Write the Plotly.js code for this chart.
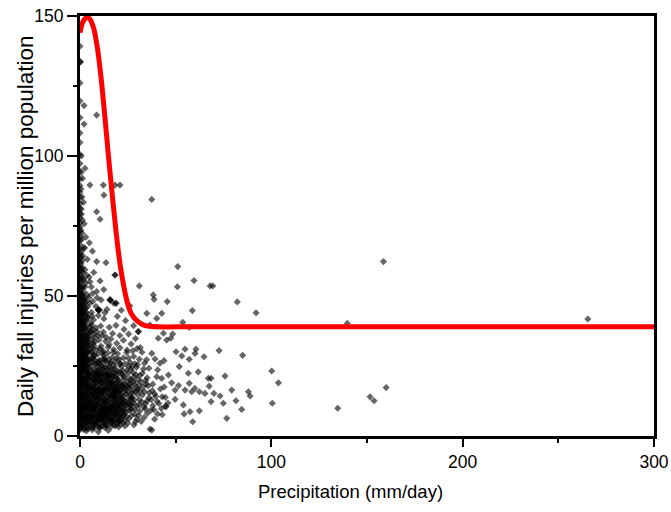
<!DOCTYPE html>
<html>
<head>
<meta charset="utf-8">
<script src="https://cdn.plot.ly/plotly-3.0.1.min.js"></script>
<style>html,body{margin:0;padding:0;background:#fff;}#chart{width:671px;height:512px;}</style>
</head>
<body>
<div id="chart"></div>
<script>
// Days with zero precipitation: injuries per million
const dryDaysY = [2.3,3.6,5.1,6.4,7.2,8.5,9.7,10.6,11.8,12.9,13.7,14.8,15.6,16.9,17.8,18.6,19.7,20.5,21.8,22.6,23.7,24.9,25.6,26.8,27.5,28.7,29.6,30.8,31.7,32.9,33.6,34.8,35.7,36.9,37.8,38.6,39.9,40.7,41.6,42.8,43.5,44.9,45.8,46.7,47.6,48.9,50.2,51.7,53.1,54.6,56.2,57.5,59.1,60.4,62.2,63.7,65.1,66.8,68.3,69.9,71.2,73.0,74.6,76.1,77.9,79.4,81.3,83.0,85.2,87.1,89.4,91.8,94.6,97.3,100.5,104.8,108.2,113.7,119.6,126.1,133.5,139.2];

// Wet days, dense core [precipitation, injuries]
const coreDays = [
[1.2,3.1],[2.5,4.4],[4.1,2.6],[5.6,5.0],[7.3,3.8],[8.8,4.9],[10.4,2.9],[12.1,4.6],[13.7,3.5],[15.2,5.4],[3.3,1.8],[6.4,2.2],[9.6,1.5],[11.5,5.8],[17.8,4.1],[20.3,5.5],[0.8,4.9],[2.0,2.3],[14.8,2.0],[29.0,5.1],[23.5,3.6],
[0.5,6.2],[1.4,7.5],[2.3,5.8],[3.1,8.9],[3.9,6.7],[4.8,9.6],[5.5,7.1],[6.3,5.6],[7.0,8.4],[7.9,6.3],[8.6,9.2],[9.4,7.7],[10.2,5.9],[11.0,8.8],[11.8,6.6],[12.7,9.9],[13.5,7.2],[14.3,5.7],[15.1,8.5],[16.0,6.8],[16.9,9.4],[17.7,7.6],[18.6,5.9],[19.5,8.9],[20.4,6.7],[21.6,9.3],[22.8,7.4],[24.1,8.6],[25.5,6.2],[27.0,9.5],[28.6,7.8],[31.2,8.9],[33.5,6.6],[0.9,9.0],[2.0,9.8],[4.4,5.2],[6.8,9.9],[9.0,5.3],[12.3,5.1],[14.8,9.7],[17.2,5.4],[19.9,5.2],[23.3,5.6],[26.2,9.9],[1.8,6.5],[5.0,8.0],[8.2,7.0],[10.7,8.1],[13.1,8.3],[15.7,7.4],[18.2,8.0],[21.0,8.0],[3.5,7.4],[6.0,6.4],[11.4,7.4],[16.5,5.0],[20.8,5.3],[29.8,6.0],[35.2,8.1],
[0.4,10.8],[1.3,12.4],[2.2,11.1],[3.0,13.8],[3.8,10.5],[4.7,12.9],[5.4,14.6],[6.2,11.3],[7.1,13.4],[7.8,10.9],[8.7,14.1],[9.5,12.0],[10.3,10.4],[11.2,13.2],[12.0,14.9],[12.9,11.6],[13.7,13.7],[14.6,10.7],[15.4,12.8],[16.3,14.4],[17.1,11.2],[18.0,13.5],[18.9,10.6],[19.8,12.7],[20.7,14.5],[21.7,11.4],[22.6,13.3],[23.6,10.9],[24.7,12.6],[25.8,14.2],[27.0,11.1],[28.3,13.0],[29.6,10.8],[31.0,12.9],[32.6,14.6],[34.2,11.5],[36.0,13.6],[0.9,14.2],[2.6,14.8],[4.2,11.9],[6.6,12.6],[9.1,13.3],[11.6,11.0],[14.0,12.2],[16.7,12.0],[19.3,14.8],[22.1,12.0],[25.2,11.6],[1.7,10.2],[5.9,10.1],[8.3,12.0],[10.8,14.4],[13.3,10.1],[15.9,13.4],[18.4,12.1],[21.2,10.3],[24.1,14.9],[26.5,12.9],[30.1,14.8],[33.4,10.3],[3.4,12.3],[7.4,14.9],[12.4,12.5],[17.5,14.8],[20.3,11.0],
[0.5,15.6],[1.4,17.8],[2.3,16.2],[3.2,19.1],[4.0,15.3],[4.9,17.6],[5.7,19.8],[6.5,16.4],[7.4,18.5],[8.2,15.7],[9.1,19.3],[9.9,17.0],[10.8,15.2],[11.6,18.8],[12.5,16.6],[13.4,19.6],[14.3,15.9],[15.2,17.9],[16.1,16.3],[17.0,19.0],[17.9,15.5],[18.9,17.7],[19.9,19.5],[21.0,16.1],[22.1,18.3],[23.3,15.8],[24.5,19.2],[25.8,17.1],[27.2,15.4],[28.6,18.6],[30.2,16.7],[31.9,19.4],[33.7,15.9],[35.6,17.9],[1.0,19.6],[2.8,18.2],[4.5,16.9],[6.1,18.0],[7.9,17.2],[9.5,16.1],[11.2,17.4],[12.9,18.1],[14.8,19.9],[16.6,18.2],[18.4,16.9],[20.5,17.6],[22.7,16.9],[26.4,19.9],[29.4,17.3],[34.6,18.6],
[0.4,20.7],[1.3,22.9],[2.2,21.3],[3.0,24.2],[3.9,20.4],[4.7,22.6],[5.6,24.8],[6.4,21.5],[7.3,23.6],[8.1,20.8],[9.0,24.4],[9.9,22.1],[10.8,20.3],[11.8,23.8],[12.7,21.7],[13.7,24.6],[14.7,20.9],[15.7,23.1],[16.8,21.4],[17.9,24.1],[19.1,20.6],[20.3,22.8],[21.6,24.7],[23.0,21.2],[24.5,23.5],[26.1,20.5],[27.8,22.6],[29.5,24.5],[31.3,21.6],[33.2,23.9],[35.1,20.8],[1.8,24.9],[4.3,21.9],[6.9,20.2],[9.4,21.2],[12.2,20.1],[15.2,24.8],[18.5,22.6],[22.3,23.3],[25.4,24.9],[0.9,23.5],[3.5,22.8],[8.6,22.6],[11.3,22.3],[14.2,22.5],
[0.5,25.6],[1.4,27.8],[2.3,26.2],[3.1,29.1],[4.0,25.4],[4.8,27.5],[5.7,29.7],[6.6,26.4],[7.5,28.6],[8.4,25.8],[9.3,29.3],[10.3,27.1],[11.3,25.3],[12.3,28.8],[13.4,26.6],[14.5,29.6],[15.7,25.9],[16.9,28.1],[18.2,26.4],[19.6,29.4],[21.1,25.7],[22.7,27.9],[24.4,29.8],[26.2,26.3],[28.1,28.4],[30.0,25.5],[32.4,29.9],[34.8,27.2],[1.0,29.6],[2.7,28.5],[6.2,28.0],[9.8,26.1],[13.0,27.8],[17.5,29.9],[20.4,27.4],[0.8,26.9],[3.6,27.0],[7.9,27.2],[11.8,29.8],[15.1,27.4],
[0.4,30.6],[1.3,32.8],[2.2,31.2],[3.1,34.1],[4.0,30.4],[4.9,32.5],[5.8,34.6],[6.8,31.4],[7.8,33.6],[8.8,30.8],[9.9,34.3],[11.0,32.1],[12.2,30.3],[13.4,33.8],[14.7,31.7],[16.1,34.6],[17.6,30.9],[19.2,33.1],[20.9,31.5],[22.7,34.2],[24.6,30.7],[26.7,32.9],[29.0,34.8],[31.5,31.6],[1.8,34.9],[4.5,33.3],[7.2,32.3],[10.4,31.2],[15.3,32.6],[0.9,31.8],[3.6,30.0],[6.3,30.1],
[0.5,35.6],[1.4,37.8],[2.3,36.2],[3.2,39.1],[4.1,35.4],[5.1,37.5],[6.1,39.6],[7.2,36.4],[8.3,38.6],[9.5,35.8],[10.8,39.3],[12.2,37.1],[13.7,35.3],[15.3,38.8],[17.0,36.6],[18.8,39.5],[20.8,35.9],[23.0,38.1],[25.4,36.4],[28.0,39.4],[30.5,37.3],[1.0,39.7],[2.8,38.5],[4.6,36.6],[6.8,38.0],[9.0,37.2],[11.5,35.9],
[0.4,40.8],[1.3,43.4],[2.2,41.3],[3.1,45.7],[4.0,42.1],[5.0,47.4],[6.0,44.2],[7.1,41.5],[8.3,46.3],[9.6,43.0],[11.0,48.6],[12.5,41.9],[14.1,45.2],[15.8,48.6],[17.6,47.4],[19.5,42.7],[21.6,44.9],[23.8,41.2],[26.0,46.5],[1.8,48.9],[0.8,46.6],[2.7,47.8],[3.6,43.9],[4.6,49.5],[6.6,48.1],[8.9,49.4],[10.3,45.0],[13.0,44.0],[0.9,41.9],[2.3,45.0],[5.4,40.3],[9.6,45.0],
[0.4,50.7],[1.2,52.9],[2.1,51.4],[3.0,54.6],[3.9,50.3],[4.8,56.8],[5.9,53.2],[7.2,58.4],[8.7,51.6],[10.5,55.4],[12.4,52.3],[18.3,57.5],[5.2,55.1],[1.6,56.2],[0.8,58.9],[2.6,59.4],[3.5,57.4],[6.6,50.9],[15.7,48.6],[18.8,47.4],[9.6,45.0],
[0.2,2.8],[1.7,3.9],[3.0,5.3],[4.5,3.2],[5.9,6.6],[7.6,2.9],[8.9,7.3],[10.1,4.1],[11.9,6.9],[13.2,4.3],[14.6,6.4],[16.2,3.3],[17.4,7.1],[19.1,4.4],[21.4,6.1],[22.6,4.7],[24.3,6.9],[2.9,7.1],[6.7,4.5],[9.7,6.0],[12.8,7.6],[15.9,5.8],[18.8,6.3],[0.6,5.2],[4.2,7.7],[7.7,5.1],[11.1,3.4],[14.1,7.9],[20.2,3.2],[23.0,8.0],
[0.3,8.6],[1.5,9.4],[2.7,10.1],[3.6,11.4],[4.6,8.3],[5.2,10.7],[6.8,8.9],[7.6,11.9],[8.9,9.6],[9.8,13.1],[10.6,8.8],[11.7,10.1],[12.6,13.4],[13.9,9.1],[14.9,11.3],[15.8,8.6],[16.9,10.4],[18.1,9.2],[19.4,11.7],[20.6,9.8],[21.9,13.0],[23.1,9.1],[24.4,11.0],[1.1,13.5],[2.0,11.8],[4.0,13.6],[5.8,12.2],[7.3,10.2],[8.0,13.9],[9.9,10.9],[11.5,12.7],[13.0,11.7],[14.4,13.8],[16.2,9.9],[17.6,12.5],[19.0,13.7],[22.5,11.7],[25.8,9.1],[27.9,11.9],[0.7,11.7],[3.3,9.6],[6.3,9.3],[12.2,8.7],[18.7,8.4],[26.8,13.5],
[0.3,14.4],[1.6,15.1],[2.5,17.1],[3.5,15.9],[4.3,18.6],[5.3,16.1],[6.0,14.7],[7.0,16.8],[7.7,19.6],[8.6,17.8],[9.6,14.8],[10.4,18.4],[11.3,16.3],[12.2,19.9],[13.0,15.0],[13.9,17.3],[14.9,18.9],[15.7,15.1],[16.5,17.2],[17.4,19.4],[18.5,15.8],[19.4,18.0],[20.2,15.9],[21.6,19.1],[22.4,17.4],[23.8,18.3],[25.1,15.6],[26.6,17.8],[28.0,19.4],[0.8,17.4],[2.0,19.2],[3.9,17.3],[5.0,19.5],[6.9,15.3],[8.5,16.2],[10.1,19.8],[11.9,15.6],[13.6,18.6],[15.5,19.1],[17.6,16.5],[19.1,16.2],[21.3,14.9],[24.0,16.8],[27.7,16.1],[30.9,18.1],
[0.3,21.4],[1.5,20.4],[2.5,23.2],[3.4,21.0],[4.4,24.5],[5.1,21.9],[6.1,23.4],[7.0,20.3],[7.9,25.6],[8.8,23.0],[9.7,26.5],[10.5,21.6],[11.5,25.1],[12.4,22.8],[13.2,26.9],[14.1,23.7],[15.0,21.3],[16.1,26.2],[17.3,22.6],[18.1,25.0],[19.5,23.2],[20.9,26.0],[22.0,21.8],[23.6,25.8],[0.7,24.3],[1.9,26.7],[3.2,27.4],[5.3,26.1],[6.6,27.6],[8.0,22.1],[10.0,24.0],[12.0,27.3],[13.9,21.2],[16.5,24.0],[19.0,27.6],[21.7,22.4],[24.9,22.3],[27.1,24.7],[29.3,21.9],[2.9,25.2],
[0.2,28.2],[1.0,30.9],[1.9,33.7],[2.6,29.3],[3.4,32.7],[4.3,35.9],[5.2,31.2],[5.9,37.3],[6.7,33.3],[7.5,29.0],[0.3,36.4],[1.6,39.1],[2.5,40.6],[3.3,37.5],[4.2,42.5],[5.1,38.9],[6.3,42.8],[7.5,35.2],[0.2,43.7],[1.1,45.3],[2.0,43.6],[3.0,48.1],[3.9,46.2],[0.5,48.3],[1.5,50.3],[2.6,53.3],[0.3,55.1],[1.2,60.1],[0.6,65.8],
[0.4,3.5],[1.1,5.8],[2.0,4.1],[2.9,3.0],[3.8,4.8],[0.6,7.9],[1.5,8.7],[2.4,7.4],[3.3,6.1],[4.2,9.3],[0.3,10.2],[1.2,11.2],[2.1,12.8],[3.0,10.9],[3.9,14.1],[0.5,13.0],[1.4,14.1],[2.3,15.2],[3.2,16.8],[4.1,13.1],[0.4,16.5],[1.3,18.5],[2.2,18.9],[3.1,20.3],[4.0,17.9],[0.6,19.8],[1.5,21.9],[2.4,20.1],[3.3,23.0],[4.2,21.4],[0.3,22.8],[1.2,24.1],[2.1,25.5],[3.0,26.2],[3.9,23.6],[0.5,25.1],[1.4,26.5],[2.3,28.0],[3.2,28.2],[4.1,27.0],[0.4,27.6],[1.3,29.4],[2.2,30.3],[3.1,31.5],[4.0,29.8],[0.6,29.2],[1.5,31.7],[2.4,33.0],[3.3,33.8],[4.2,32.1],[0.3,32.7],[1.2,34.3],[2.1,35.1],[3.0,36.0],[3.9,34.5],[0.5,34.4],[1.4,36.3],[2.3,38.1],[3.2,41.2],[0.4,38.2],[1.3,40.5],[2.2,39.6],[3.1,43.1],[0.6,40.0],[1.5,42.1],[2.4,44.2],[0.3,42.1],[1.2,44.3],[2.1,46.3],[0.5,45.5],[1.4,47.2],[2.3,49.0],[0.4,47.0],[1.3,49.6],[0.6,50.9],[1.4,53.4],[0.3,52.8],[2.0,55.8],[0.7,56.7],[1.6,58.3],[0.4,59.7],[1.1,62.6],[0.5,64.0],[1.8,67.1],[0.8,70.2],[0.4,73.6],[1.2,77.1],[0.6,81.0],[1.0,85.4],[0.5,94.1],
[4.9,4.0],[6.1,3.1],[7.0,6.9],[8.1,4.3],[9.2,8.1],[10.6,6.6],[11.6,9.6],[12.9,3.0],[13.8,6.2],[15.0,9.0],[16.3,4.6],[17.0,8.2],[18.3,3.6],[19.6,7.2],[21.0,4.2],[22.1,6.9],[5.4,11.6],[6.5,13.9],[7.4,9.6],[8.4,10.8],[9.4,14.0],[10.2,11.8],[11.0,9.4],[12.7,10.6],[13.6,12.6],[14.2,9.4],[15.4,14.7],[16.0,10.8],[17.3,13.9],[18.3,11.0],[19.2,9.7],[20.0,13.4],[21.4,12.4],[5.0,15.6],[6.3,17.4],[7.3,15.1],[8.0,18.7],[9.3,15.9],[10.0,16.7],[11.0,19.0],[12.1,15.8],[12.9,17.0],[14.0,16.4],[15.0,16.9],[16.2,19.5],[17.3,18.1],[18.0,16.1],[19.1,19.0],[20.6,16.4],[21.8,18.0],[5.8,21.0],[6.8,22.4],[8.3,21.6],[9.1,20.0],[10.3,23.1],[11.0,21.2],[12.5,24.2],[13.4,22.0],[14.5,21.6],[15.4,22.1],[16.4,20.7],[17.6,21.3],[18.9,21.4],[20.0,20.2],[4.6,6.0],[6.9,7.6],[9.9,3.3],[12.0,5.6],[14.0,4.0],[16.8,5.9],[18.0,9.5],[19.9,10.9],[21.8,8.7],[22.9,10.0],[7.7,4.2],[10.9,7.0],[13.6,8.6],[15.6,10.2],[17.8,14.3],[20.0,7.7],[22.3,14.2],[23.4,12.4],[24.6,17.6],[23.2,20.5],
[25.0,4.6],[26.9,7.3],[28.2,4.0],[30.6,7.3],[32.0,5.2],[34.1,9.7],[26.1,11.2],[28.8,9.5],[30.9,11.0],[32.3,12.1],[35.0,12.5],[27.1,14.0],[29.1,15.9],[31.5,16.2],[33.0,17.6],[36.2,15.4],[25.9,18.5],[28.1,21.1],[30.3,20.2],[32.6,22.4],[34.3,19.8],[26.6,23.7],[28.6,25.8],[31.0,27.4],[33.7,26.0],[36.0,24.2],[39.2,27.5],[25.3,27.8],[27.5,30.4],[29.8,31.2]
];

// Wet days, sparse points [precipitation, injuries]
const sparseDays = [
[0.6,61.5],[1.5,64.3],[2.4,67.2],[3.8,63.1],[8.7,62.3],[13.6,61.9],[4.9,69.0],[1.1,72.4],[2.2,75.8],[0.7,79.2],[8.7,80.1],[10.5,77.4],[1.8,83.5],[0.5,88.2],[5.2,89.6],[12.2,89.6],[18.3,89.6],[20.9,89.6],[12.5,86.0],[2.6,95.6],[0.7,100.0],[2.1,118.0],[2.1,111.4],[8.7,114.6],[0.3,133.7],[3.0,71.0],[6.5,66.0],[1.3,92.0],
[51.1,60.5],[158.6,62.3],[50.9,53.3],[59.6,55.5],[68.0,53.6],[69.4,53.6],[82.2,47.9],[92.0,44.0],[38.3,50.4],[38.7,48.8],[45.6,48.0],[42.7,43.8],[40.1,42.0],[58.7,44.8],[53.7,40.6],[57.1,38.8],[139.7,40.2],[265.4,41.8],[43.6,36.7],[48.4,36.4],[40.9,34.9],[45.3,34.3],[47.4,34.9],[37.5,29.5],[43.9,26.9],[50.2,30.1],[53.2,28.6],[54.9,31.0],[57.1,27.4],[60.6,31.0],[60.1,29.5],[64.8,28.3],[72.7,30.5],[85.0,28.8],[51.9,24.8],[56.6,22.4],[61.8,22.9],[67.1,20.6],[68.5,20.6],[75.8,21.4],[100.2,23.2],[103.7,19.0],[40.1,21.2],[42.7,20.6],[47.9,19.0],[49.7,16.4],[57.1,18.8],[54.9,16.4],[58.4,15.8],[62.4,15.8],[65.3,15.2],[70.0,15.2],[73.2,14.3],[79.3,16.4],[81.5,12.6],[88.0,15.8],[88.9,14.3],[68.5,12.3],[74.9,11.7],[84.5,9.5],[100.5,11.7],[45.0,10.5],[49.7,13.1],[54.0,11.1],[54.4,7.9],[58.9,5.1],[62.4,9.0],[57.5,8.7],[76.7,6.3],[134.7,9.9],[151.6,14.0],[153.7,12.6],[160.0,17.3],[37.5,2.1],[36.6,2.5],[37.5,84.5],[31.0,53.6],[36.6,39.6],[30.5,37.3],[34.9,43.8],[15.7,48.6],[9.6,45.0],[18.8,47.4],[18.3,57.5],
[38.0,18.5],[39.5,14.2],[41.2,11.6],[38.6,9.4],[42.0,16.8],[40.6,23.6],[37.2,13.0],[43.0,7.6],[44.6,13.8],[46.2,21.8],[39.0,6.0],[41.8,26.0],[37.0,9.2],[40.5,7.9],[42.5,9.8],[38.1,10.9],[40.3,12.4],[42.9,14.0],[46.0,11.8],[44.5,10.6],[37.8,16.2],[39.0,15.1],[44.0,17.5],[51.5,18.0],[60.0,17.0],[67.5,17.8]
];

// Fitted curve
const fitX = [0,1,2,3.5,5,7,9,11,13,15,17,19,21,23,25,27,30,33,36,40,60,100,200,300];
const fitY = [144,147,148.5,149.5,149,146,139,128,114,99,85,72,61,53,47,43.5,41,39.7,39.2,39,39,39,39,39];

const xTicks = [0, 100, 200, 300];
const yTicks = [0, 50, 100, 150];
const xTitle = 'Precipitation (mm/day)';
const yTitle = 'Daily fall injuries per million population';

const scatX = dryDaysY.map(() => 0).concat(coreDays.map(p => p[0]), sparseDays.map(p => p[0]));
const scatY = dryDaysY.concat(coreDays.map(p => p[1]), sparseDays.map(p => p[1]));

const font = 'Arial, "Liberation Sans", Helvetica, sans-serif';

const traces = [
  {
    type: 'scatter', mode: 'markers', x: scatX, y: scatY,
    marker: {symbol: 'diamond', size: 5.5, color: 'rgba(0,0,0,0.6)', line: {width: 0}},
    hoverinfo: 'skip', showlegend: false
  },
  {
    type: 'scatter', mode: 'lines', x: fitX, y: fitY,
    line: {color: '#ff0000', width: 5, shape: 'spline'},
    hoverinfo: 'skip', showlegend: false
  }
];

const axisCommon = {
  showgrid: false, zeroline: false, showline: true, linecolor: '#000', linewidth: 3, mirror: true,
  ticks: 'outside', tickwidth: 2, tickcolor: '#000',
  tickfont: {family: font, size: 17.5, color: '#000'}
};

const layout = {
  width: 671, height: 512,
  margin: {l: 80, r: 17, t: 16, b: 76},
  paper_bgcolor: '#fff', plot_bgcolor: '#fff',
  xaxis: Object.assign({}, axisCommon, {
    range: [0, 300], tickvals: xTicks, ticklen: 8,
    minor: {ticks: 'outside', ticklen: 4, tickwidth: 2, tickcolor: '#000', tickvals: [50, 150, 250]}
  }),
  yaxis: Object.assign({}, axisCommon, {
    range: [0, 150], tickvals: yTicks, ticklen: 10,
    minor: {ticks: 'outside', ticklen: 4, tickwidth: 2, tickcolor: '#000', tickvals: [25, 75, 125]}
  }),
  annotations: [
    {text: xTitle, xref: 'paper', yref: 'paper', x: 0.472, y: -0.133, xanchor: 'center', yanchor: 'middle',
     showarrow: false, font: {family: font, size: 18.5, color: '#000'}},
    {text: yTitle, xref: 'paper', yref: 'paper', x: -0.096, y: 0.5, xanchor: 'center', yanchor: 'middle',
     textangle: -90, showarrow: false, font: {family: font, size: 22.5, color: '#000'}}
  ]
};

Plotly.newPlot('chart', traces, layout, {displayModeBar: false, staticPlot: true});
</script>
</body>
</html>
